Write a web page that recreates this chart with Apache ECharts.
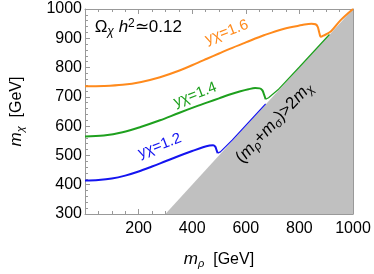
<!DOCTYPE html>
<html>
<head>
<meta charset="utf-8">
<script src="https://cdn.jsdelivr.net/npm/echarts@6/dist/echarts.min.js"></script>
<style>html,body{margin:0;padding:0;background:#fff}#c{width:374px;height:274px}</style>
</head>
<body>
<div id="c"></div>
<script>
// ---- data ----
var xTicks = [200, 400, 600, 800, 1000];
var yTicks = [300, 400, 500, 600, 700, 800, 900, 1000];

// kinematic boundary (m_rho + m_sigma) > 2 m_chi  (gray region)
var boundaryX = [300, 1000];
var boundaryY = [300, 1000];

// y_chi = 1.2 (blue)
var blueX = [0, 50, 100, 150, 200, 250, 300, 350, 400, 440, 465, 478, 486, 491, 495];
var blueY = [414, 416, 421, 431, 445, 462, 480, 498, 515, 528, 534, 535, 530, 518, 508];
var blueTailX = [495, 505, 550, 674];
var blueTailY = [508, 512, 553, 676];

// y_chi = 1.4 (green)
var greenX = [0, 70, 140, 210, 280, 350, 420, 460, 500, 540, 580, 610, 635, 652, 662, 668, 674];
var greenY = [565, 568, 579, 598, 620, 645, 669, 682, 695, 708, 719, 726, 730, 729, 722, 708, 692];
var greenTailX = [674, 685, 720, 800, 912];
var greenTailY = [692, 697, 724, 802, 913];

// y_chi = 1.6 (orange)
var orangeX = [0, 70, 140, 210, 280, 350, 420, 455, 500, 540, 600, 670, 740, 810, 845, 860, 868, 874, 880, 890, 918, 954, 1000];
var orangeY = [736, 737, 741, 751, 767, 789, 816, 830, 848, 864, 886, 911, 932, 945, 950, 948, 940, 920, 905, 909, 924, 962, 1000];

// annotation anchors (data coordinates)
var labelPos = {
  omega: [36, 936],
  y16: [529, 921],
  y14: [411, 707],
  y12: [279, 533],
  bound: [706, 612]
};

function pairs(xs, ys) { return xs.map(function (x, i) { return [x, ys[i]]; }); }

var FONT = 'Liberation Sans, Arial, sans-serif';
var frameColor = '#999';
var chart = echarts.init(document.getElementById('c'), null, { renderer: 'canvas' });

function axisCommon(extra) {
  return Object.assign({
    type: 'value',
    axisLine: { show: true, onZero: false, lineStyle: { color: frameColor, width: 1 } },
    axisTick: { show: true, inside: true, length: 5, lineStyle: { color: frameColor } },
    minorTick: { show: true, length: 3, lineStyle: { color: frameColor } },
    splitLine: { show: false },
    minorSplitLine: { show: false }
  }, extra);
}

var option = {
  animation: false,
  backgroundColor: '#fff',
  grid: { left: 73, right: 21, top: 9, bottom: 56 },
  xAxis: [
    axisCommon({
      min: 0, max: 1000, interval: 200, position: 'bottom',
      minorTick: { show: true, splitNumber: 4, length: 3, lineStyle: { color: frameColor } },
      axisLabel: {
        color: '#000', fontFamily: FONT, fontSize: 16, margin: 7,
        formatter: function (v) { return xTicks.indexOf(v) >= 0 ? String(v) : ''; }
      },
      name: '{i|m}{s|ρ}{n|  [GeV]}',
      nameLocation: 'middle', nameGap: 36,
      nameTextStyle: {
        color: '#000', fontFamily: FONT, fontSize: 16,
        rich: {
          i: { fontStyle: 'italic', fontSize: 17, fontFamily: FONT, color: '#000' },
          s: { fontStyle: 'italic', fontSize: 11, fontFamily: FONT, color: '#000', padding: [8, 0, 0, 0] },
          n: { fontSize: 16, fontFamily: FONT, color: '#000' }
        }
      }
    }),
    axisCommon({
      min: 0, max: 1000, interval: 200, position: 'top',
      minorTick: { show: true, splitNumber: 4, length: 3, lineStyle: { color: frameColor } },
      axisLabel: { show: false }
    })
  ],
  yAxis: [
    axisCommon({
      min: 300, max: 1000, interval: 100, position: 'left',
      minorTick: { show: true, splitNumber: 5, length: 3, lineStyle: { color: frameColor } },
      axisLabel: {
        color: '#000', fontFamily: FONT, fontSize: 16, margin: 3,
        formatter: function (v) { return yTicks.indexOf(v) >= 0 ? String(v) : ''; }
      },
      name: '{i|m}{s|χ}{n|  [GeV]}',
      nameLocation: 'middle', nameGap: 59, nameRotate: 90,
      nameTextStyle: {
        color: '#000', fontFamily: FONT, fontSize: 16,
        rich: {
          i: { fontStyle: 'italic', fontSize: 17, fontFamily: FONT, color: '#000' },
          s: { fontStyle: 'italic', fontSize: 11, fontFamily: FONT, color: '#000', padding: [8, 0, 0, 0] },
          n: { fontSize: 16, fontFamily: FONT, color: '#000' }
        }
      }
    }),
    axisCommon({
      min: 300, max: 1000, interval: 100, position: 'right',
      minorTick: { show: true, splitNumber: 5, length: 3, lineStyle: { color: frameColor } },
      axisLabel: { show: false }
    })
  ],
  series: [
    {
      type: 'line', data: pairs(boundaryX, boundaryY), symbol: 'none', silent: true,
      lineStyle: { width: 0, color: '#c0c0c0' },
      areaStyle: { color: '#c0c0c0', opacity: 1 }, z: 1
    },
    {
      type: 'line', data: pairs(blueTailX, blueTailY), symbol: 'none',
      lineStyle: { width: 1.2, color: '#1414f0' }, z: 3
    },
    {
      type: 'line', data: pairs(greenTailX, greenTailY), symbol: 'none',
      lineStyle: { width: 1.2, color: '#1ea01e' }, z: 3
    },
    {
      type: 'line', data: pairs(blueX, blueY), symbol: 'none', smooth: 0.35,
      lineStyle: { width: 2, color: '#1414f0' }, z: 4
    },
    {
      type: 'line', data: pairs(greenX, greenY), symbol: 'none', smooth: 0.35,
      lineStyle: { width: 2, color: '#1ea01e' }, z: 4
    },
    {
      type: 'line', data: pairs(orangeX, orangeY), symbol: 'none', smooth: 0.35,
      lineStyle: { width: 2, color: '#ff8a1c' }, z: 4
    }
  ]
};
chart.setOption(option);

function px(p) { return chart.convertToPixel({ gridIndex: 0 }, p); }
var deg = Math.PI / 180;
var pO = px(labelPos.omega), p16 = px(labelPos.y16), p14 = px(labelPos.y14), p12 = px(labelPos.y12), pB = px(labelPos.bound);

function curveLabel(p, color, txt) {
  return {
    type: 'text', x: p[0], y: p[1], rotation: 21 * deg, z: 10,
    style: {
      text: '{i|yχ}{n|=' + txt + '}', align: 'center', verticalAlign: 'middle',
      rich: {
        i: { fontFamily: FONT, fontSize: 15, fill: color },
        n: { fontFamily: FONT, fontSize: 15, fill: color }
      }
    }
  };
}

chart.setOption({
  graphic: [
    {
      type: 'text', x: pO[0], y: pO[1], z: 10,
      style: {
        text: '{o|Ω}{s|χ}{n| }{i|h}{p|2}{n|≃0.12}', align: 'left', verticalAlign: 'middle',
        rich: {
          o: { fontFamily: FONT, fontSize: 17, fill: '#000' },
          s: { fontFamily: FONT, fontSize: 12, fill: '#000', fontStyle: 'italic', padding: [8, 0, 0, 0] },
          i: { fontFamily: FONT, fontSize: 17, fill: '#000', fontStyle: 'italic' },
          p: { fontFamily: FONT, fontSize: 12, fill: '#000', padding: [0, 0, 8, 0] },
          n: { fontFamily: FONT, fontSize: 17, fill: '#000' }
        }
      }
    },
    curveLabel(p16, '#ff8a1c', '1.6'),
    curveLabel(p14, '#1ea01e', '1.4'),
    curveLabel(p12, '#1414f0', '1.2'),
    {
      type: 'text', x: pB[0], y: pB[1], rotation: 47 * deg, z: 10,
      style: {
        text: '{n|(}{i|m}{s|ρ}{n|+}{i|m}{s|σ}{n|)>2}{i|m}{s|χ}', align: 'center', verticalAlign: 'middle',
        rich: {
          n: { fontFamily: FONT, fontSize: 17, fill: '#000' },
          i: { fontFamily: FONT, fontSize: 17, fill: '#000', fontStyle: 'italic' },
          s: { fontFamily: FONT, fontSize: 12, fill: '#000', fontStyle: 'italic', padding: [8, 0, 0, 0] }
        }
      }
    }
  ]
});
</script>
</body>
</html>
